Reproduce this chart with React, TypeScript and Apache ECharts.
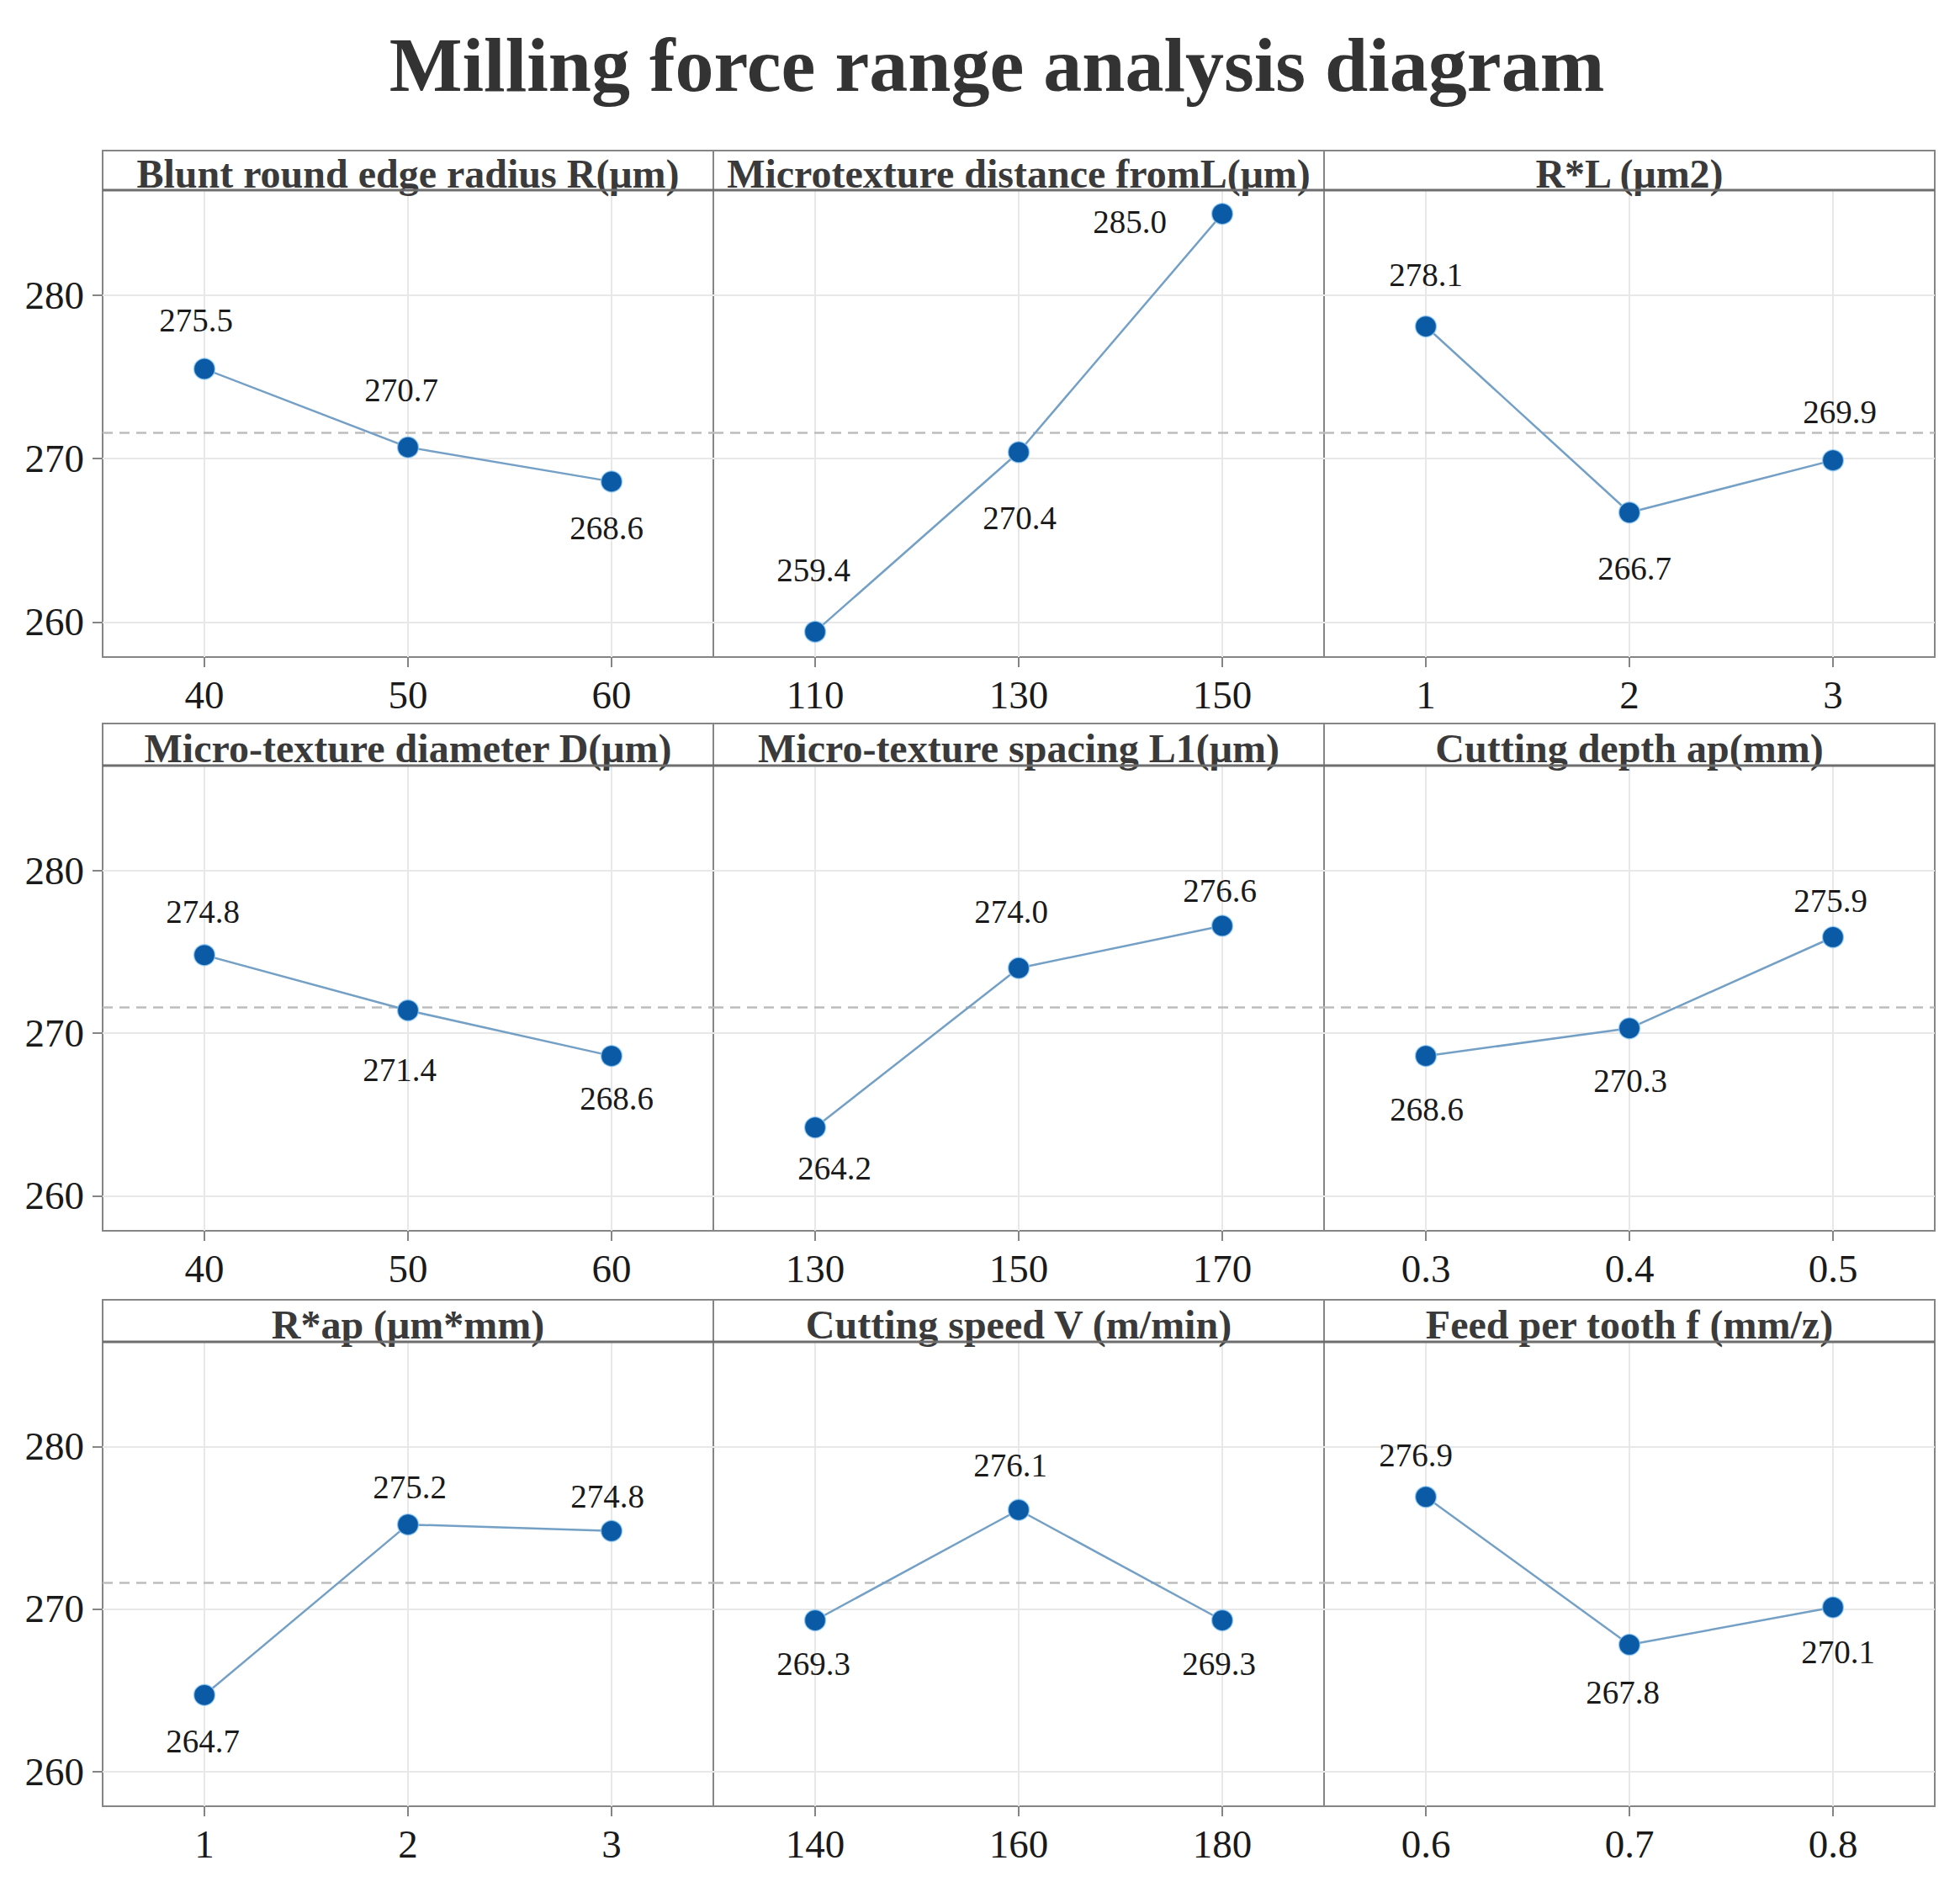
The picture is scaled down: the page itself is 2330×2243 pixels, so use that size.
import React, { useEffect, useRef } from "react";
import * as echarts from "echarts";

// ---------- data ----------
const chartTitle = "Milling force range analysis diagram";

const panelTitles = [
  "Blunt round edge radius R(μm)",
  "Microtexture distance fromL(μm)",
  "R*L (μm2)",
  "Micro-texture diameter D(μm)",
  "Micro-texture spacing L1(μm)",
  "Cutting depth ap(mm)",
  "R*ap (μm*mm)",
  "Cutting speed V (m/min)",
  "Feed per tooth f (mm/z)",
];

const levelsR = ["40", "50", "60"];
const levelsL = ["110", "130", "150"];
const levelsRL = ["1", "2", "3"];
const levelsD = ["40", "50", "60"];
const levelsL1 = ["130", "150", "170"];
const levelsAp = ["0.3", "0.4", "0.5"];
const levelsRAp = ["1", "2", "3"];
const levelsV = ["140", "160", "180"];
const levelsF = ["0.6", "0.7", "0.8"];

const forceR = [275.5, 270.7, 268.6];
const forceL = [259.4, 270.4, 285.0];
const forceRL = [278.1, 266.7, 269.9];
const forceD = [274.8, 271.4, 268.6];
const forceL1 = [264.2, 274.0, 276.6];
const forceAp = [268.6, 270.3, 275.9];
const forceRAp = [264.7, 275.2, 274.8];
const forceV = [269.3, 276.1, 269.3];
const forceF = [276.9, 267.8, 270.1];

const meanForce = 271.6;
const yTickValues = [260, 270, 280];

const panelLevels = [levelsR, levelsL, levelsRL, levelsD, levelsL1, levelsAp, levelsRAp, levelsV, levelsF];
const panelForces = [forceR, forceL, forceRL, forceD, forceL1, forceAp, forceRAp, forceV, forceF];

// ---------- layout (pixels) ----------
const labelOffsets: number[][][] = [
  [[-10, -58], [-8, -68], [-6, 55]],
  [[-2, -73], [1, 78], [-110, 9]],
  [[0, -62], [6, 66], [8, -58]],
  [[-2, -52], [-10, 70], [6, 50]],
  [[23, 48], [-9, -67], [-3, -42]],
  [[1, 63], [1, 62], [-3, -43]],
  [[-2, 55], [2, -45], [-5, -41]],
  [[-2, 51], [-10, -53], [-4, 51]],
  [[-12, -50], [-8, 57], [6, 53]],
];

const colLeft = [122, 848, 1574];
const colWidth = 726;
const stripTop = [179, 860, 1545];
const plotTop = [226, 910, 1595];
const plotBottom = [781, 1463, 2147];

const SERIF = "Liberation Serif";
const BORDER = "#858585";
const GRIDLINE = "#e8e8e8";

export default function App() {
  const ref = useRef<HTMLDivElement>(null);

  useEffect(() => {
    document.body.style.margin = "0";
    if (!ref.current) return;
    const chart = echarts.init(ref.current, undefined, { renderer: "svg" });

    const grids: any[] = [];
    const xAxes: any[] = [];
    const yAxes: any[] = [];
    const series: any[] = [];
    const graphics: any[] = [];

    graphics.push({
      type: "text",
      x: 1185,
      y: 77,
      style: {
        text: chartTitle,
        fontFamily: SERIF,
        fontWeight: "bold",
        fontSize: 92,
        fill: "#333333",
        align: "center",
        verticalAlign: "middle",
        textAlign: "center",
        textVerticalAlign: "middle",
      },
    });

    for (let i = 0; i < 9; i++) {
      const r = Math.floor(i / 3);
      const c = i % 3;
      grids.push({
        left: colLeft[c],
        top: plotTop[r],
        width: colWidth,
        height: plotBottom[r] - plotTop[r],
        show: true,
        borderColor: BORDER,
        borderWidth: 2,
        backgroundColor: "#ffffff",
      });
      xAxes.push({
        type: "category",
        gridIndex: i,
        data: panelLevels[i],
        boundaryGap: true,
        axisLine: { show: false },
        axisTick: {
          show: true,
          alignWithLabel: true,
          length: 12,
          lineStyle: { color: BORDER, width: 2 },
        },
        axisLabel: {
          fontFamily: SERIF,
          fontSize: 47,
          color: "#1a1a1a",
          margin: 21,
        },
        splitLine: {
          show: true,
          alignWithLabel: true,
          lineStyle: { color: GRIDLINE, width: 2 },
        },
      });
      yAxes.push({
        type: "value",
        gridIndex: i,
        min: 257.85,
        max: 286.45,
        axisLine: { show: false },
        axisTick: {
          show: c === 0,
          length: 12,
          customValues: yTickValues,
          lineStyle: { color: BORDER, width: 2 },
        },
        axisLabel: {
          show: c === 0,
          customValues: yTickValues,
          fontFamily: SERIF,
          fontSize: 47,
          color: "#1a1a1a",
          margin: 22,
        },
        splitLine: { show: true, lineStyle: { color: GRIDLINE, width: 2 } },
      });
      series.push({
        type: "line",
        xAxisIndex: i,
        yAxisIndex: i,
        z: 3,
        data: panelForces[i].map((v, k) => ({
          value: v,
          label: { offset: labelOffsets[i][k] },
        })),
        symbol: "circle",
        symbolSize: 25,
        itemStyle: { color: "#0a5aa6", borderColor: "rgba(150,205,245,0.7)", borderWidth: 1.5 },
        lineStyle: { color: "#74a0c6", width: 2.5 },
        label: {
          show: true,
          position: "inside",
          align: "center",
          verticalAlign: "middle",
          fontFamily: SERIF,
          fontSize: 39,
          color: "#1a1a1a",
          formatter: (p: any) => Number(p.value).toFixed(1),
        },
        emphasis: { disabled: true },
        markLine: {
          silent: true,
          z: 1,
          symbol: ["none", "none"],
          label: { show: false },
          lineStyle: { type: [12, 8], color: "#bdbdbd", width: 2.5 },
          data: [{ yAxis: meanForce }],
        },
      });

      // strip
      graphics.push({
        type: "rect",
        shape: {
          x: colLeft[c],
          y: stripTop[r],
          width: colWidth,
          height: plotTop[r] - stripTop[r],
        },
        style: { fill: "#ffffff", stroke: BORDER, lineWidth: 2 },
        z: 10,
      });
      graphics.push({
        type: "line",
        shape: {
          x1: colLeft[c],
          y1: plotTop[r],
          x2: colLeft[c] + colWidth,
          y2: plotTop[r],
        },
        style: { stroke: "#6e6e6e", lineWidth: 3 },
        z: 12,
      });
      graphics.push({
        type: "text",
        x: colLeft[c] + colWidth / 2,
        y: (stripTop[r] + plotTop[r]) / 2 + 4,
        z: 11,
        style: {
          text: panelTitles[i],
          fontFamily: SERIF,
          fontWeight: "bold",
          fontSize: 48,
          fill: "#3a3a3a",
          align: "center",
          verticalAlign: "middle",
          textAlign: "center",
          textVerticalAlign: "middle",
        },
      });
    }

    chart.setOption({
      animation: false,
      backgroundColor: "#ffffff",
      grid: grids,
      xAxis: xAxes,
      yAxis: yAxes,
      series,
      graphic: graphics,
    });

    return () => chart.dispose();
  }, []);

  return <div ref={ref} style={{ width: 2330, height: 2243 }} />;
}
